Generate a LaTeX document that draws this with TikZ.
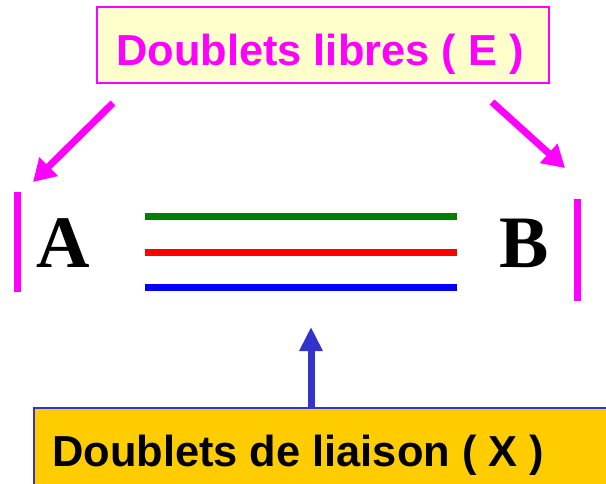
\documentclass[tikz,border=0pt]{standalone}
\usepackage{fontspec}
\setmainfont{Liberation Serif}
\setsansfont{Liberation Sans}
\usetikzlibrary{arrows.meta}
\definecolor{mag}{RGB}{255,0,255}
\definecolor{paleyellow}{RGB}{255,255,204}
\definecolor{gold}{RGB}{255,204,0}
\definecolor{arrowblue}{RGB}{51,51,204}
\definecolor{dgreen}{RGB}{0,128,0}
\tikzset{
  topbox/.style={draw=mag, fill=paleyellow, line width=2pt, minimum width=452pt, minimum height=76pt, inner sep=0pt},
  botbox/.style={draw=arrowblue, fill=gold, line width=2pt, minimum width=620pt, minimum height=120pt, inner sep=0pt, anchor=north west},
  labeltext/.style={font=\sffamily\bfseries\fontsize{43.4}{50}\selectfont, inner sep=0pt, anchor=base},
  atom/.style={font=\rmfamily\bfseries\fontsize{74}{80}\selectfont, inner sep=0pt, anchor=base},
  bar/.style={draw=mag, line width=7pt},
  bond/.style={line width=7pt},
  magarrow/.style={draw=mag, line width=7pt, -{Triangle[length=22pt,width=25pt]}},
  bluearrow/.style={draw=arrowblue, line width=7pt, -{Triangle[length=24pt,width=22pt]}}
}
\begin{document}
\begin{tikzpicture}[x=1pt,y=-1pt]
\useasboundingbox (0,0) rectangle (606,483);
% top box
\node[topbox] (tb) at (323,45) {};
\node[labeltext, text=mag] (tt) at (320,65) {Doublets libres ( E )};
% bottom box
\node[botbox] (bb) at (33,407) {};
\node[labeltext, text=black, anchor=base west] (bt) at (52,466) {Doublets de liaison ( X )};
% atoms
\node[atom] (A) at (63,267) {A};
\node[atom] (B) at (524.5,267) {B};
% bars
\coordinate (lbt) at (17,192);
\coordinate (lbb) at (17,292);
\coordinate (rbt) at (577,199);
\coordinate (rbb) at (577,301);
\draw[bar] (lbt) -- (lbb);
\draw[bar] (rbt) -- (rbb);
% bonds
\coordinate (g1) at (145,216); \coordinate (g2) at (457,216);
\coordinate (r1) at (145,252); \coordinate (r2) at (457,252);
\coordinate (b1) at (145,287); \coordinate (b2) at (457,287);
\draw[bond, draw=dgreen] (g1) -- (g2);
\draw[bond, draw=red] (r1) -- (r2);
\draw[bond, draw=blue] (b1) -- (b2);
% arrows
\coordinate (la0) at (113,103);
\coordinate (la1) at (33,182);
\coordinate (ra0) at (492,102);
\coordinate (ra1) at (565,168);
\draw[magarrow] (la0) -- (la1);
\draw[magarrow] (ra0) -- (ra1);
\coordinate (ba1) at (311,327);
\draw[bluearrow] (bb.north west -| ba1) -- (ba1);
\end{tikzpicture}
\end{document}
